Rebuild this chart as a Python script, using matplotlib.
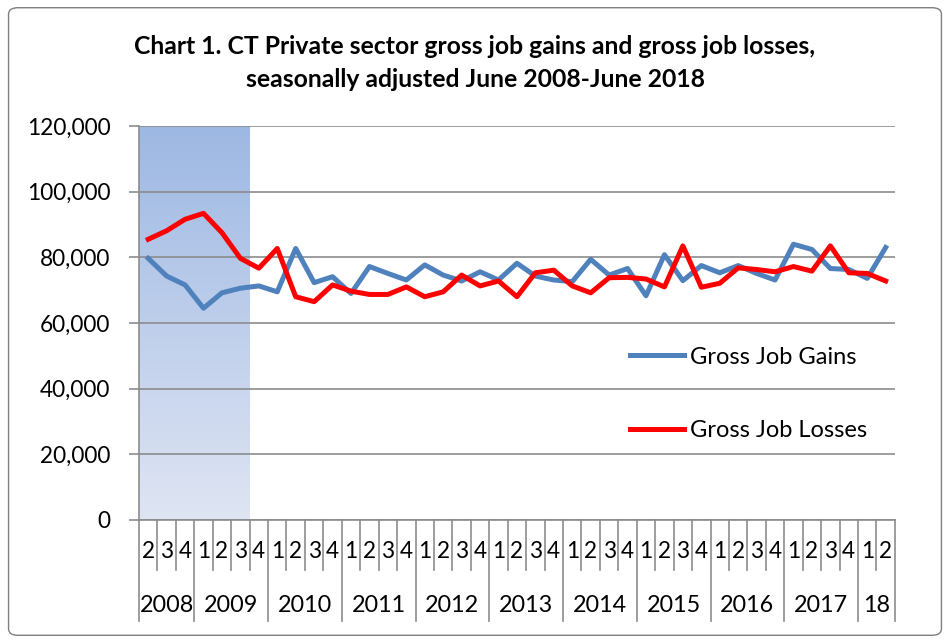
import numpy as np
import matplotlib
matplotlib.use("Agg")
import matplotlib.pyplot as plt
from matplotlib.patches import FancyBboxPatch
from matplotlib.colors import LinearSegmentedColormap

plt.rcParams['font.family'] = ['Lato', 'DejaVu Sans']

# quarters June 2008 (Q2) .. June 2018 (Q2)
years = ['2008', '2009', '2010', '2011', '2012', '2013', '2014',
         '2015', '2016', '2017', '18']
quarters = [2, 3, 4] + [1, 2, 3, 4] * 9 + [1, 2]

gains = [79700, 74300, 71600, 64500, 69200, 70600, 71300, 69500, 82700,
         72300, 74100, 69000, 77200, 75100, 73100, 77700, 74600, 72800,
         75600, 73100, 78200, 74300, 73100, 72600, 79400, 74600, 76600,
         68300, 80800, 72900, 77500, 75300, 77500, 75100, 73100, 84000,
         82400, 76600, 76300, 73600, 83000]
losses = [85500, 88100, 91600, 93400, 87500, 79700, 76700, 82700, 68000,
          66500, 71600, 69700, 68700, 68700, 71000, 68000, 69500, 74600,
          71300, 72800, 68000, 75300, 76100, 71300, 69200, 73800, 73900,
          73400, 71000, 83500, 70900, 72100, 76800, 76300, 75600, 77200,
          75800, 83500, 75300, 75100, 72800]
recession_quarters = 6  # shaded band, 2008 Q2 - 2009 Q3

n = len(quarters)
x = np.arange(n)

fig = plt.figure(figsize=(9.5, 6.43), dpi=100)
fig.patches.append(FancyBboxPatch((0.009, 0.012), 0.982, 0.976,
                                  boxstyle="round,pad=0,rounding_size=0.01",
                                  transform=fig.transFigure, fill=False,
                                  edgecolor='#7f7f7f', linewidth=1.0))

ax = fig.add_axes([0.1463, 0.1913, 0.7957, 0.6127])

# shaded band with vertical gradient
grad = np.linspace(0, 1, 256).reshape(-1, 1)
cmap = LinearSegmentedColormap.from_list('shade', ['#dfe5f3', '#9db8e3'])
ax.imshow(grad, cmap=cmap, origin='lower', aspect='auto',
          extent=[-0.5, recession_quarters - 0.5, 0, 120000], zorder=0)

ax.plot(x, gains, color='#4f81bd', linewidth=3.6, label='Gross Job Gains',
        zorder=3, solid_joinstyle='round')
ax.plot(x, losses, color='#ff0000', linewidth=3.6, label='Gross Job Losses',
        zorder=4, solid_joinstyle='round')

ax.set_xlim(-0.5, n - 0.5)
ax.set_ylim(0, 120000)
ax.set_yticks(np.arange(0, 120001, 20000))
ax.set_yticklabels([f'{v:,}' for v in range(0, 120001, 20000)], fontsize=16.3)
ax.yaxis.grid(True, color='#8c8c8c', linewidth=1.2, zorder=1)
ax.set_axisbelow(True)
ax.tick_params(axis='y', length=7.5, width=1.2, color='#8c8c8c', pad=13)
ax.set_xticks([])
for s in ['top', 'right']:
    ax.spines[s].set_visible(False)
ax.spines['left'].set_color('#8c8c8c')
ax.spines['bottom'].set_color('#8c8c8c')
ax.spines['left'].set_linewidth(1.2)
ax.spines['bottom'].set_linewidth(1.2)

# two-level category axis
tr = ax.get_xaxis_transform()
for i, q in enumerate(quarters):
    ax.text(i, -0.081, str(q), transform=tr, ha='center', va='center',
            fontsize=16.3)
bounds = [-0.5]
pos = -0.5
counts = [3] + [4] * 9 + [2]
for c in counts:
    pos += c
    bounds.append(pos)
for i in range(n + 1):
    b = i - 0.5
    ymin = -0.256 if b in bounds else -0.127
    ax.plot([b, b], [0, ymin], transform=tr, color='#8c8c8c',
            linewidth=1.2, clip_on=False)
for k, yr in enumerate(years):
    mid = (bounds[k] + bounds[k + 1]) / 2
    ax.text(mid, -0.216, yr, transform=tr, ha='center', va='center',
            fontsize=16.8)

leg = ax.legend(loc='upper left', bbox_to_anchor=(0.6495, 0.44),
                frameon=False, fontsize=17, handlelength=2.3,
                labelspacing=2.22, handletextpad=0.25, borderpad=0,
                borderaxespad=0)

fig.text(0.5, 0.927, 'Chart 1. CT Private sector gross job gains and gross job losses,',
         ha='center', va='center', fontsize=17.8, fontweight='bold')
fig.text(0.5, 0.8756, 'seasonally adjusted June 2008-June 2018',
         ha='center', va='center', fontsize=17.8, fontweight='bold')

fig.savefig('out.png', dpi=100)
